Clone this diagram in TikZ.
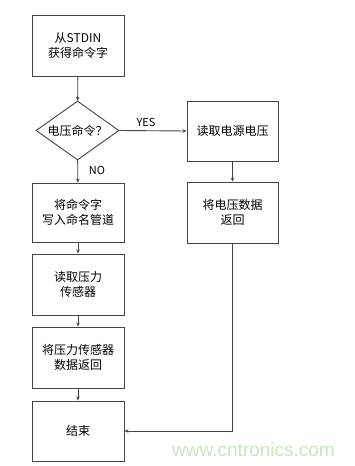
\documentclass[tikz,border=0pt]{standalone}
\usepackage{fontspec}
\newfontfamily\cjk{Noto Sans CJK SC}
\newfontfamily\wmfont{Liberation Sans}
\usetikzlibrary{shapes.geometric,arrows.meta}
\definecolor{linegray}{HTML}{444444}
\definecolor{wmgreen}{HTML}{CBE5C3}
\tikzset{
  x=1pt,y=-1pt,
  box/.style={draw=linegray,line width=0.9pt,rectangle,inner sep=0pt,minimum width=92pt,
    align=center,font=\cjk\fontsize{12pt}{15pt}\selectfont},
  decision/.style={draw=linegray,line width=0.9pt,diamond,aspect=1.4,inner sep=0pt,minimum width=83pt,
    minimum height=59pt,font=\cjk\fontsize{12pt}{15pt}\selectfont},
  flow/.style={draw=linegray,line width=0.9pt,-{Stealth[length=4pt,width=3.5pt]}},
  lab/.style={font=\cjk\fontsize{11pt}{13pt}\selectfont,inner sep=0pt}
}
\begin{document}
\begin{tikzpicture}
\useasboundingbox (0,0) rectangle (355,466);
\fill[white] (0,0) rectangle (355,466);
\node[box,minimum height=61pt] (b1) at (78,45.5) {从STDIN\\获得命令字};
\node[decision] (d) at (77.5,130.5) {电压命令？};
\node[box,minimum height=59pt] (b2) at (78,212.5) {将命令字\\写入命名管道};
\node[box,minimum height=61pt] (b3) at (78,284.5) {读取压力\\传感器};
\node[box,minimum height=61pt] (b4) at (78,357.5) {将压力传感器\\数据返回};
\node[box,minimum height=60pt] (b5) at (78,431) {结束};
\node[box,minimum width=91pt,minimum height=60pt] (r1) at (232.5,131) {读取电源电压};
\node[box,minimum width=91pt,minimum height=61pt] (r2) at (232.5,212.5) {将电压数据\\返回};
\draw[flow] (b1) -- (d);
\draw[flow] (d) -- (b2);
\draw[flow] (b2) -- (b3);
\draw[flow] (b3) -- (b4);
\draw[flow] (b4) -- (b5);
\draw[flow] (d.east) -- (r1.west);
\draw[flow] (r1) -- (r2);
\draw[flow] (r2.south) |- (b5.east);
\node[lab] (yes) at (146,122) {YES};
\node[lab] (no) at (97,170) {NO};
\node[font=\wmfont\fontsize{19pt}{22pt}\selectfont,text=wmgreen,inner sep=0pt] (wm) at (253.5,450) {www.cntronics.com};
\end{tikzpicture}
\end{document}
